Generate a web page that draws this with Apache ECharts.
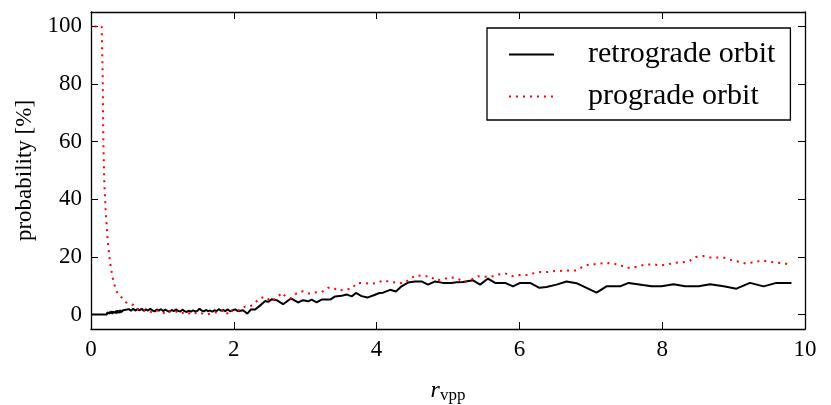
<!DOCTYPE html>
<html>
<head>
<meta charset="utf-8">
<script src="https://cdn.jsdelivr.net/npm/echarts@6/dist/echarts.min.js"></script>
<style>
  html, body { margin: 0; padding: 0; background: #fff; }
  #main { width: 831px; height: 405px; }
</style>
</head>
<body>
<div id="main"></div>
<script>
// values
var retroR = [0.00, 0.22, 0.23, 0.24, 0.25, 0.26, 0.27, 0.28, 0.29, 0.30, 0.31, 0.32, 0.33, 0.34, 0.35, 0.36, 0.37, 0.38, 0.39, 0.40,
    0.41, 0.42, 0.43, 0.44, 0.45, 0.47, 0.49, 0.51, 0.53, 0.56, 0.59, 0.62, 0.65, 0.68, 0.71, 0.74, 0.77, 0.80, 0.83, 0.86,
    0.89, 0.92, 0.95, 0.98, 1.01, 1.04, 1.07, 1.10, 1.13, 1.16, 1.19, 1.22, 1.25, 1.28, 1.31, 1.34, 1.37, 1.40, 1.43, 1.46,
    1.49, 1.52, 1.55, 1.58, 1.61, 1.64, 1.67, 1.70, 1.73, 1.76, 1.79, 1.82, 1.85, 1.88, 1.91, 1.95, 2.02, 2.06, 2.13, 2.19,
    2.24, 2.30, 2.37, 2.44, 2.48, 2.53, 2.60, 2.69, 2.80, 2.90, 2.97, 3.04, 3.09, 3.16, 3.23, 3.35, 3.42, 3.51, 3.58, 3.65,
    3.71, 3.79, 3.87, 3.96, 4.04, 4.09, 4.19, 4.27, 4.35, 4.44, 4.54, 4.63, 4.72, 4.82, 4.93, 5.05, 5.12, 5.21, 5.35, 5.45,
    5.56, 5.66, 5.80, 5.91, 6.01, 6.15, 6.28, 6.38, 6.52, 6.66, 6.80, 7.08, 7.22, 7.41, 7.53, 7.85, 7.99, 8.16, 8.32, 8.51,
    8.67, 8.86, 9.04, 9.23, 9.42, 9.60, 9.81];
var retroP = [0, 0, 0.8, 0.2, 1.0, 0.3, 1.1, 0.4, 1.2, 0.2, 1.0, 0.5, 1.4, 0.6, 1.3, 0.4, 1.5, 0.7, 1.4, 0.5,
    1.6, 0.8, 1.3, 0.6, 1.5, 0.9, 1.7, 1.2, 1.9, 1.3, 2.0, 1.4, 1.9, 1.5, 2.0, 1.3, 1.8, 1.4, 2.0, 1.5,
    1.1, 1.8, 1.4, 1.9, 1.2, 1.7, 1.3, 1.0, 1.6, 1.2, 1.8, 1.3, 1.1, 1.7, 1.2, 0.9, 1.4, 1.0, 1.5, 1.1,
    1.3, 2.0, 1.4, 1.1, 1.6, 1.2, 1.4, 1.0, 1.5, 1.2, 1.9, 1.3, 1.6, 1.2, 1.8, 1.15, 1.8, 1.15, 1.5, 0.3,
    1.8, 1.8, 3.2, 4.7, 4.4, 5.3, 5.0, 3.6, 5.6, 4.2, 5.0, 4.6, 5.2, 4.2, 5.2, 5.2, 6.3, 6.5, 7.0, 6.3,
    7.5, 6.4, 5.9, 6.7, 7.5, 7.6, 8.6, 8.0, 9.8, 11.1, 11.5, 11.5, 10.4, 11.5, 11.0, 11.0, 11.2, 11.3, 11.9, 10.4,
    12.5, 11.0, 11.0, 9.8, 11.0, 11.0, 9.3, 9.6, 10.4, 11.5, 10.9, 7.6, 9.8, 9.8, 11.0, 9.8, 9.8, 10.5, 9.8, 9.8,
    10.5, 9.8, 9.0, 11.0, 9.8, 11.0, 11.0];

var progR = [0.05, 0.15, 0.164, 0.173, 0.187, 0.205, 0.233, 0.266, 0.30, 0.345, 0.38, 0.43, 0.48, 0.52, 0.59, 0.64, 0.69, 0.75, 0.81, 0.87,
    0.93, 0.98, 1.04, 1.10, 1.16, 1.22, 1.27, 1.33, 1.41, 1.50, 1.56, 1.62, 1.71, 1.80, 1.88, 1.92, 1.98, 2.09, 2.16, 2.23,
    2.30, 2.36, 2.44, 2.52, 2.60, 2.67, 2.72, 2.80, 2.88, 2.97, 3.05, 3.14, 3.23, 3.32, 3.39, 3.46, 3.56, 3.65, 3.72, 3.82,
    3.92, 4.01, 4.10, 4.20, 4.30, 4.38, 4.47, 4.56, 4.65, 4.75, 4.83, 4.93, 5.03, 5.13, 5.23, 5.33, 5.42, 5.51, 5.60, 5.70,
    5.80, 5.90, 6.00, 6.10, 6.19, 6.30, 6.40, 6.50, 6.61, 6.71, 6.80, 6.90, 6.99, 7.08, 7.20, 7.29, 7.39, 7.49, 7.58, 7.68,
    7.78, 7.89, 7.98, 8.09, 8.18, 8.28, 8.38, 8.47, 8.58, 8.67, 8.77, 8.87, 8.97, 9.08, 9.17, 9.27, 9.37, 9.46, 9.57, 9.67,
    9.77];
var progP = [100, 100, 82.6, 59.5, 45.6, 36.3, 25.8, 18.3, 13.1, 8.7, 7.1, 5.9, 4.4, 3.8, 3.4, 2.2, 1.3, 1.7, 1.2, 0.6,
    1.4, 0.9, 0.4, 1.3, 0.7, 1.2, 0.5, 1.0, 0.0, 0.9, 0.4, 0.0, 0.6, 1.0, 1.7, 0.0, 1.5, 1.5, 2.8, 2.8,
    4.2, 5.6, 6.2, 4.7, 5.6, 7.6, 6.4, 5.6, 7.4, 8.1, 7.3, 7.7, 7.8, 9.3, 9.4, 8.3, 8.7, 9.0, 10.9, 11.0,
    10.6, 11.1, 11.9, 11.3, 11.0, 10.8, 12.5, 13.7, 13.3, 13.3, 11.9, 12.2, 13.0, 12.5, 11.3, 12.2, 13.3, 13.1, 13.1, 13.9,
    14.3, 13.3, 13.7, 13.7, 14.3, 14.8, 14.8, 15.1, 15.2, 15.3, 15.3, 16.8, 17.5, 17.5, 18.0, 17.7, 17.4, 16.3, 16.2, 16.9,
    17.4, 17.4, 17.0, 17.5, 18.0, 18.1, 18.6, 20.0, 20.3, 19.8, 19.8, 19.7, 18.9, 18.3, 17.7, 18.1, 18.6, 18.6, 18.1, 17.9,
    17.5];

var yTicks = [0, 20, 40, 60, 80, 100];

function zip(a, b) {
    return a.map(function (v, i) { return [v, b[i]]; });
}

var serif = 'Liberation Serif';
var frame = { show: true, onZero: false, lineStyle: { color: '#000', width: 1.3 } };
var ticksIn = { show: true, inside: true, length: 7, lineStyle: { color: '#000', width: 1 } };

var myChart = echarts.init(document.getElementById('main'));

var option = {
    animation: false,
    backgroundColor: '#fff',
    grid: { left: 91, right: 26, top: 12, bottom: 76, outerBoundsMode: 'none' },
    legend: {
        orient: 'vertical',
        left: 487,
        top: 28,
        padding: [11, 15, 8, 21],
        itemGap: 11,
        itemWidth: 45,
        itemHeight: 10,
        itemStyle: { opacity: 0 },
        borderColor: '#000',
        borderWidth: 1.3,
        backgroundColor: '#fff',
        textStyle: { fontFamily: serif, fontSize: 30, color: '#000', padding: [0, 0, 0, 29], lineHeight: 31 },
        data: ['retrograde orbit', 'prograde orbit']
    },
    xAxis: [{
        type: 'value',
        min: 0,
        max: 10,
        interval: 2,
        position: 'bottom',
        axisLine: frame,
        axisTick: ticksIn,
        splitLine: { show: false },
        axisLabel: { fontFamily: serif, fontSize: 23, color: '#000', margin: 9 },
        name: '{i|r}{s|vpp}',
        nameLocation: 'middle',
        nameGap: 49,
        nameTextStyle: {
            rich: {
                i: { fontFamily: serif, fontStyle: 'italic', fontSize: 24, color: '#000' },
                s: { fontFamily: serif, fontSize: 17, color: '#000', padding: [9, 0, 0, 0] }
            }
        }
    }, {
        type: 'value',
        min: 0,
        max: 10,
        interval: 2,
        position: 'top',
        axisLine: frame,
        axisTick: ticksIn,
        axisLabel: { show: false },
        splitLine: { show: false }
    }],
    yAxis: [{
        type: 'value',
        min: -5,
        max: 105,
        position: 'left',
        axisLine: frame,
        axisTick: Object.assign({ customValues: yTicks }, ticksIn),
        splitLine: { show: false },
        axisLabel: { customValues: yTicks, fontFamily: serif, fontSize: 23, color: '#000', margin: 9 },
        name: 'probability [%]',
        nameLocation: 'middle',
        nameGap: 53,
        nameTextStyle: { fontFamily: serif, fontSize: 23, color: '#000' }
    }, {
        type: 'value',
        min: -5,
        max: 105,
        position: 'right',
        axisLine: frame,
        axisTick: Object.assign({ customValues: yTicks }, ticksIn),
        axisLabel: { show: false },
        splitLine: { show: false }
    }],
    series: [{
        name: 'retrograde orbit',
        type: 'line',
        data: zip(retroR, retroP),
        symbol: 'none',
        color: '#000',
        lineStyle: { color: '#000', width: 2 }
    }, {
        name: 'prograde orbit',
        type: 'line',
        data: zip(progR, progP),
        symbol: 'none',
        color: '#ff0000',
        lineStyle: { color: '#ff0000', width: 2, type: [2, 5], cap: 'butt' }
    }]
};

myChart.setOption(option);
</script>
</body>
</html>
